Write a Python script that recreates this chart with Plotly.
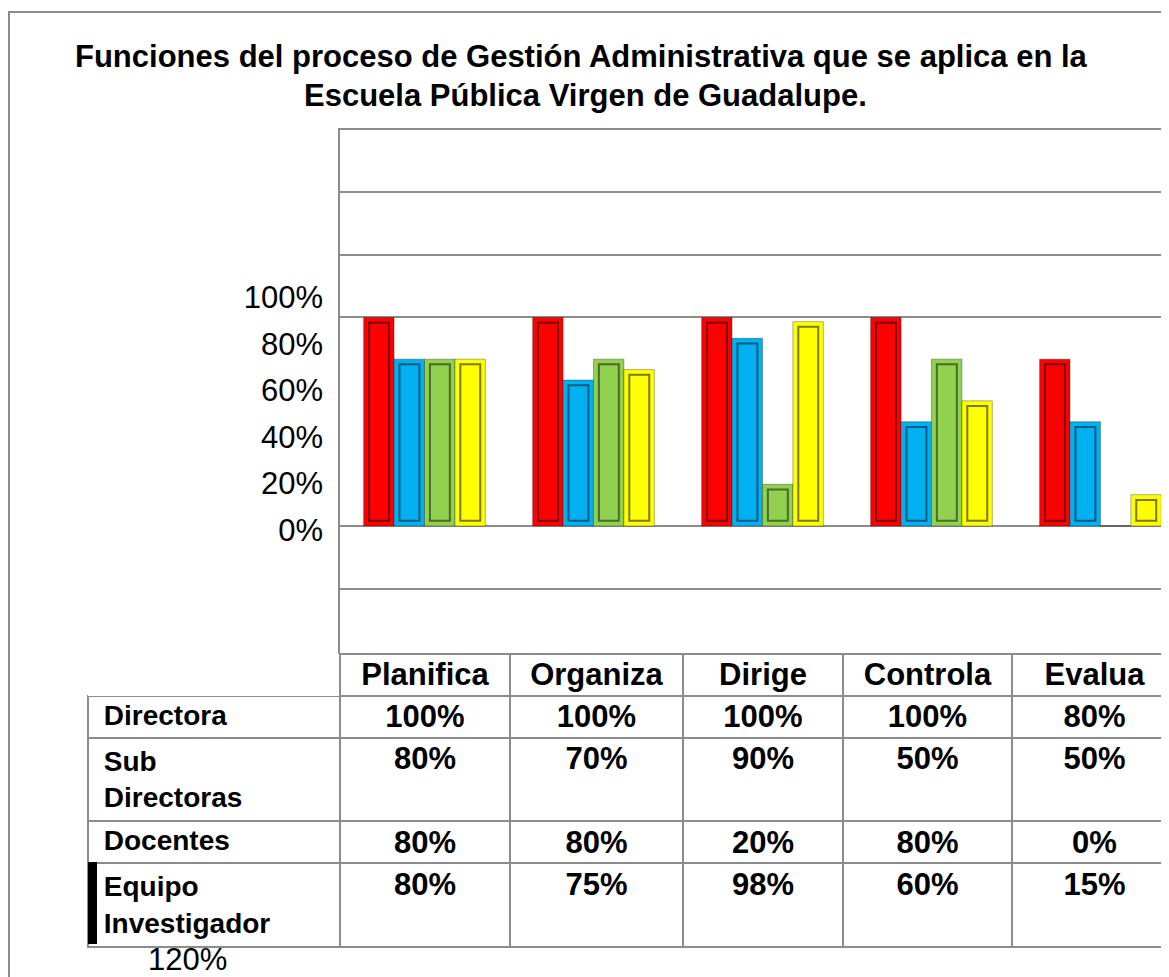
import plotly.graph_objects as go

# datos del cuadro
categorias = ['Planifica', 'Organiza', 'Dirige', 'Controla', 'Evalua']
directora = [1.00, 1.00, 1.00, 1.00, 0.80]
sub_directoras = [0.80, 0.70, 0.90, 0.50, 0.50]
docentes = [0.80, 0.80, 0.20, 0.80, 0.00]
equipo = [0.80, 0.75, 0.98, 0.60, 0.15]

filas = ['Directora', 'Sub<br>Directoras', 'Docentes', 'Equipo<br>Investigador']
colores = ['#FF0000', '#00B0F0', '#92D050', '#FFFF00']
sombras = ['#7A0000', '#005B80', '#4B6B2A', '#7A7A00']
ticks_eje = [0, 0.2, 0.4, 0.6, 0.8, 1.0]
ticks_texto = ['0%', '20%', '40%', '60%', '80%', '100%']

W, H = 1169, 977
OFF = 8  # margen del body de la pagina
FONT = 'Liberation Sans, Arial, sans-serif'
GRIS = '#8c8c8c'


def px_x(p):
    return (p - OFF) / W


def px_y(p):
    return 1 - (p - OFF) / H


series = [directora, sub_directoras, docentes, equipo]
ancho = 0.18

fig = go.Figure()

# barras con efecto de bisel (barra exterior + barra interior)
for k, valores in enumerate(series):
    off = -0.36 + ancho * k
    fig.add_trace(go.Bar(
        x=categorias, y=valores, name=filas[k].replace('<br>', ' '),
        offset=off, width=ancho,
        marker=dict(color=colores[k], line=dict(color='rgba(0,0,0,0.3)', width=1)),
    ))
    interior = [v - 0.05 if v > 0.05 else None for v in valores]
    fig.add_trace(go.Bar(
        x=categorias, y=interior, base=0.025,
        offset=off + 0.032, width=ancho - 0.062,
        marker=dict(color=colores[k], line=dict(color=sombras[k], width=2)),
        hoverinfo='skip', showlegend=False,
    ))

# eje con las etiquetas de porcentaje
fig.add_trace(go.Scatter(x=categorias[:1], y=[None], yaxis='y2',
                         showlegend=False, hoverinfo='skip'))

# tabla de datos
def pct(v):
    return f'{v:.0%}'

etiquetas = ['\u00a0' + f.replace('<br>', '<br>\u00a0') for f in filas]
columnas = [etiquetas] + [[pct(s[i]) for s in series] for i in range(len(categorias))]

fig.add_trace(go.Table(
    domain=dict(x=[px_x(88), 1], y=[0, px_y(654)]),
    columnwidth=[252, 170, 173, 160, 169, 165],
    header=dict(
        values=[''] + categorias,
        align='center', height=42,
        fill=dict(color='white'),
        line=dict(color=['rgba(0,0,0,0)'] + [GRIS] * 5, width=2),
        font=dict(family=FONT, size=31, color='black', weight='bold'),
    ),
    cells=dict(
        values=columnas,
        align=['left'] + ['center'] * 5, height=42,
        fill=dict(color='white'),
        line=dict(color=GRIS, width=2),
        font=dict(family=FONT, size=[28] + [31] * 5, color='black', weight='bold'),
    ),
))

fig.update_layout(
    width=W, height=H,
    margin=dict(l=0, r=0, t=0, b=0),
    paper_bgcolor='white', plot_bgcolor='white',
    barmode='overlay', showlegend=False,
    font=dict(family=FONT, color='black'),
    xaxis=dict(
        domain=[px_x(340), 1], range=[-0.5, 4.453],
        showticklabels=False, showgrid=False, ticks='',
        showline=True, mirror=True, linecolor=GRIS, linewidth=2,
        fixedrange=True,
    ),
    yaxis=dict(
        domain=[px_y(654), px_y(130)], range=[-0.614, 1.899],
        tickvals=[-0.3, 0, 1.0, 1.3, 1.6], showticklabels=False,
        showgrid=True, gridcolor=GRIS, gridwidth=2, zeroline=False,
        showline=True, linecolor=GRIS, linewidth=2, ticks='',
        fixedrange=True,
    ),
    yaxis2=dict(
        overlaying='y', anchor='free', side='left', position=px_x(323),
        range=[-0.532, 1.717], tickvals=ticks_eje, ticktext=ticks_texto,
        showgrid=False, zeroline=False, showline=False, ticks='',
        tickfont=dict(family=FONT, size=31, color='black'),
        fixedrange=True,
    ),
)

# titulo
fig.add_annotation(
    text='<b>Funciones del proceso de Gestión Administrativa que se aplica en la</b>',
    xref='paper', yref='paper', x=px_x(581), y=px_y(56),
    xanchor='center', yanchor='middle',
    showarrow=False, font=dict(family=FONT, size=31, color='black'),
)
fig.add_annotation(
    text='<b>Escuela Pública Virgen de Guadalupe.</b>',
    xref='paper', yref='paper', x=px_x(585), y=px_y(95),
    xanchor='center', yanchor='middle',
    showarrow=False, font=dict(family=FONT, size=31, color='black'),
)
fig.add_annotation(
    text='120%', xref='paper', yref='paper', x=px_x(187), y=px_y(959),
    xanchor='center', yanchor='middle',
    showarrow=False, font=dict(family=FONT, size=31, color='black'),
)

# marco exterior y marca de serie
fig.add_shape(type='rect', xref='paper', yref='paper',
              x0=px_x(9), x1=1.05, y0=-0.05, y1=px_y(12),
              line=dict(color=GRIS, width=2), layer='below')
fig.add_shape(type='rect', xref='paper', yref='paper',
              x0=px_x(88), x1=px_x(97), y0=px_y(944), y1=px_y(862),
              line=dict(width=0), fillcolor='black')

fig.write_html('out.html')
